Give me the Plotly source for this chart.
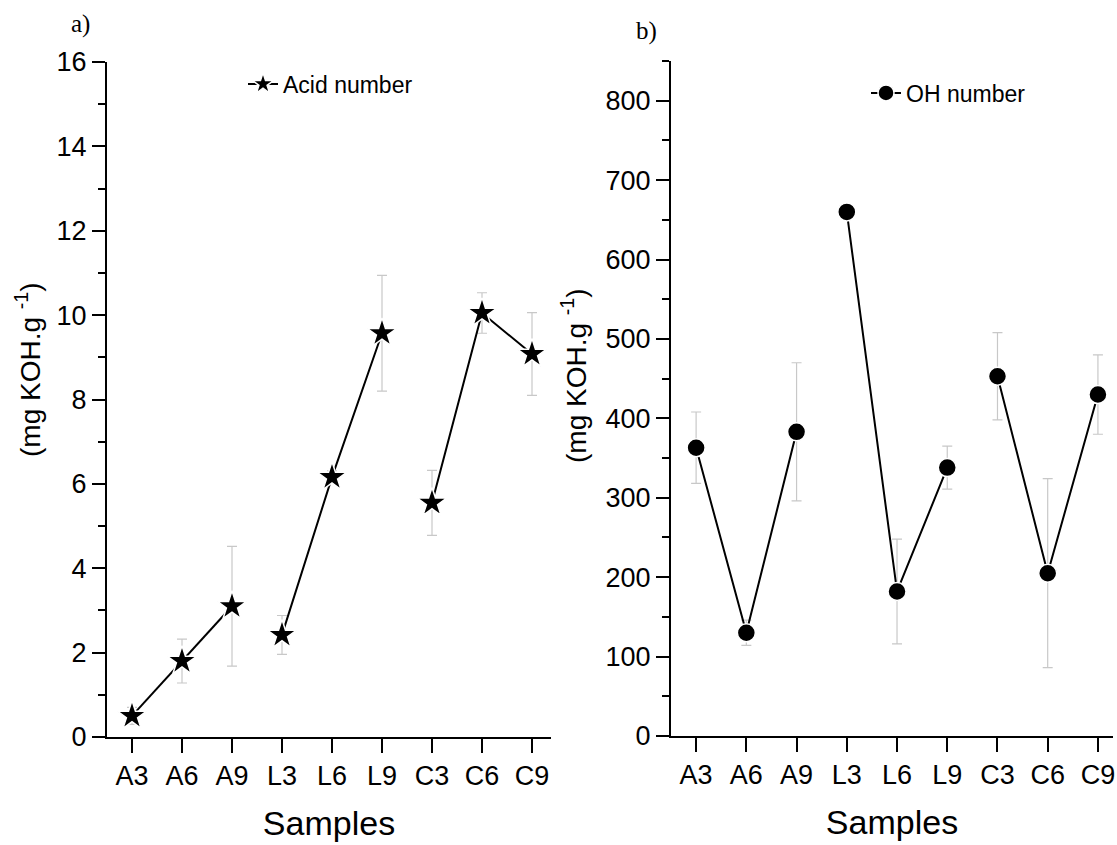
import plotly.graph_objects as go

samples = ["A3", "A6", "A9", "L3", "L6", "L9", "C3", "C6", "C9"]
acid_number = [0.5, 1.8, 3.1, 2.42, 6.16, 9.57, 5.55, 10.05, 9.08]
acid_err = [0.2, 0.52, 1.42, 0.46, 0.15, 1.37, 0.77, 0.48, 0.98]
oh_number = [363, 130, 383, 660, 182, 338, 453, 205, 430]
oh_err = [45, 16, 87, 3, 66, 27, 55, 119, 50]
group_size = 3

FONT = "Liberation Sans, Arial, sans-serif"
SERIF = "Liberation Serif, Times New Roman, serif"


def with_gaps(values, fill):
    out = []
    for i, v in enumerate(values):
        if i > 0 and i % group_size == 0:
            out.append(fill)
        out.append(v)
    return out


xpos = with_gaps(list(range(len(samples))), None)

fig = go.Figure()
fig.add_trace(go.Scatter(
    x=xpos, y=with_gaps(acid_number, None), name="Acid number",
    mode="lines+markers", connectgaps=False, showlegend=True,
    line=dict(color="black", width=2),
    marker=dict(symbol="star", size=22, color="black", line=dict(color="white", width=1.5)),
    error_y=dict(type="data", array=with_gaps(acid_err, 0), color="#c8c8c8", thickness=1.2, width=5),
    xaxis="x", yaxis="y", legend="legend",
))
fig.add_trace(go.Scatter(
    x=xpos, y=with_gaps(oh_number, None), name="OH number",
    mode="lines+markers", connectgaps=False, showlegend=True,
    line=dict(color="black", width=2),
    marker=dict(symbol="circle", size=18, color="black", line=dict(color="white", width=1.5)),
    error_y=dict(type="data", array=with_gaps(oh_err, 0), color="#c8c8c8", thickness=1.2, width=5),
    xaxis="x2", yaxis="y2", legend="legend2",
))

W, H = 1117, 845
xd1 = [107 / W, 551 / W]
xd2 = [671 / W, 1113 / W]
yd1 = [(H - 737) / H, (H - 62) / H]
yd2 = [(H - 736) / H, (H - 61) / H]

xcommon = dict(
    tickmode="array", tickvals=list(range(len(samples))), ticktext=samples,
    showline=True, linecolor="black", linewidth=2,
    ticks="outside", ticklen=14, tickwidth=2, tickcolor="black",
    showgrid=False, zeroline=False, automargin=False,
    tickfont=dict(family=FONT, size=27, color="black"),
    title=dict(text="Samples", font=dict(family=FONT, size=34, color="black"), standoff=21),
)
ycommon = dict(
    showline=True, linecolor="black", linewidth=2,
    ticks="outside", ticklen=13, tickwidth=2, tickcolor="black",
    showgrid=False, zeroline=False, automargin=False,
    tickfont=dict(family=FONT, size=27, color="black"),
)

ytitle = "(mg KOH.g <sup>-1</sup>)"

fig.update_layout(
    width=W, height=H, showlegend=True,
    margin=dict(l=0, r=0, t=0, b=0),
    paper_bgcolor="white", plot_bgcolor="white",
    xaxis=dict(domain=xd1, anchor="y", range=[-0.5, 8.38], **xcommon),
    xaxis2=dict(domain=xd2, anchor="y2", range=[-0.5, 8.3], **xcommon),
    yaxis=dict(domain=yd1, anchor="x", range=[0, 16], dtick=2,
               minor=dict(dtick=1, ticks="outside", ticklen=7, tickwidth=2, tickcolor="black"),
               **ycommon),
    yaxis2=dict(domain=yd2, anchor="x2", range=[0, 850], dtick=100,
                minor=dict(dtick=50, ticks="outside", ticklen=7, tickwidth=2, tickcolor="black"),
                **ycommon),
    legend=dict(x=243 / W, y=1 - 84 / H, xanchor="left", yanchor="middle",
                font=dict(family=FONT, size=23, color="black"), bgcolor="rgba(0,0,0,0)"),
    legend2=dict(x=866 / W, y=1 - 93 / H, xanchor="left", yanchor="middle",
                 font=dict(family=FONT, size=23, color="black"), bgcolor="rgba(0,0,0,0)"),
    annotations=[
        dict(text="a)", x=80 / W, y=1 - 24 / H, xref="paper", yref="paper",
             xanchor="center", yanchor="middle",
             showarrow=False, font=dict(family=SERIF, size=25, color="black")),
        dict(text="b)", x=646 / W, y=1 - 31 / H, xref="paper", yref="paper",
             xanchor="center", yanchor="middle",
             showarrow=False, font=dict(family=SERIF, size=25, color="black")),
        dict(text=ytitle, x=28 / W, y=1 - 370 / H, xref="paper", yref="paper",
             xanchor="center", yanchor="middle", textangle=-90,
             showarrow=False, font=dict(family=FONT, size=28, color="black")),
        dict(text=ytitle, x=574 / W, y=1 - 376 / H, xref="paper", yref="paper",
             xanchor="center", yanchor="middle", textangle=-90,
             showarrow=False, font=dict(family=FONT, size=28, color="black")),
    ],
)

fig.write_html("out.html")
